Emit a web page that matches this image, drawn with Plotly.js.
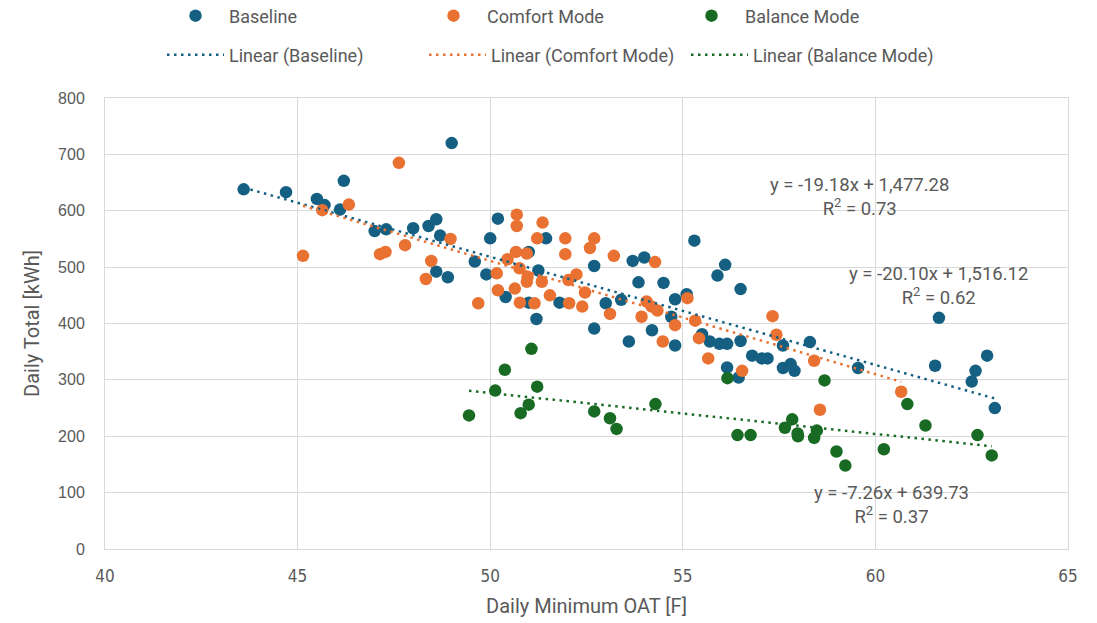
<!DOCTYPE html>
<html>
<head>
<meta charset="utf-8">
<script src="https://cdn.plot.ly/plotly-3.0.1.min.js"></script>
<style>html,body{margin:0;padding:0;background:#fff;}#chart{width:1097px;height:623px;}</style>
</head>
<body>
<div id="chart"></div>
<script>
// ---- Data ----
var seriesNames = ["Baseline", "Comfort Mode", "Balance Mode"];
var trendNames = ["Linear (Baseline)", "Linear (Comfort Mode)", "Linear (Balance Mode)"];

var baselineX = [43.6,44.7,45.5,45.7,46.2,46.1,47.0,47.3,48.0,48.4,48.6,48.7,49.0,48.6,48.9,49.6,49.9,50.0,50.2,50.4,51.0,51.25,51.45,51.0,51.2,51.8,52.7,53.0,53.4,53.7,54.0,53.85,54.5,54.8,55.1,54.7,55.3,55.9,56.1,56.5,52.7,53.6,54.2,54.8,55.5,55.7,55.95,56.15,56.5,56.15,56.45,56.8,57.05,57.2,57.6,58.3,57.6,57.8,57.9,59.55,61.65,61.55,62.9,62.6,62.5,63.1];
var baselineY = [638,633,621,610,653,602,564,567,569,573,585,556,720,492,482,510,487,551,586,447,527,494,551,437,408,437,502,436,442,511,517,473,472,443,452,412,547,485,504,461,391,368,388,361,381,368,364,364,369,322,304,343,338,338,361,367,321,328,316,321,410,325,343,316,297,250];

var comfortX = [45.14,45.64,46.33,47.14,47.28,47.63,47.79,48.33,48.47,48.97,49.69,50.17,50.2,50.45,50.64,50.67,50.69,50.69,50.76,50.77,50.95,50.97,50.95,51.15,51.22,51.34,51.36,51.55,51.95,51.95,52.03,52.05,52.24,52.39,52.46,52.59,52.7,53.11,53.21,53.93,54.06,54.19,54.28,54.34,54.48,54.8,55.12,55.32,55.42,55.66,56.54,57.33,57.43,58.41,58.56,60.67];
var comfortY = [520,601,611,523,527,685,539,479,511,550,436,489,459,514,462,527,593,573,498,437,524,483,474,436,551,474,579,450,551,523,477,436,487,430,455,534,551,417,520,412,439,430,509,423,368,397,445,405,374,338,316,413,380,334,247,279];

var balanceX = [49.45,50.13,50.38,50.79,51.0,51.07,51.22,52.7,53.11,53.28,54.29,56.16,56.42,56.76,57.65,57.84,57.98,57.99,58.41,58.48,58.68,58.99,59.22,60.22,60.83,61.3,62.65,63.02];
var balanceY = [237,281,318,241,256,355,288,244,232,213,257,303,202,202,215,230,205,200,197,210,299,173,148,177,257,219,202,166];

// Trendline equations as printed on the chart
var trendSlope = [-19.18, -20.10, -7.26];
var trendIntercept = [1477.28, 1516.12, 639.73];
var trendR2 = [0.73, 0.62, 0.37];

var xTickVals = [40,45,50,55,60,65];
var yTickVals = [0,100,200,300,400,500,600,700,800];

// ---- Styles ----
var colors = ["#156082", "#E97132", "#196B24"];
var gray = "#595959";
var grid = "#D9D9D9";
var uiFont = "Roboto, 'Liberation Sans', sans-serif";

var xs = [baselineX, comfortX, balanceX];
var ys = [baselineY, comfortY, balanceY];

function fmt(v){
  var s = Math.abs(v).toFixed(2);
  var parts = s.split(".");
  parts[0] = parts[0].replace(/\B(?=(\d{3})+(?!\d))/g, ",");
  return parts.join(".");
}

var traces = [];
for (var i = 0; i < 3; i++) {
  traces.push({
    type: "scatter", mode: "markers", name: seriesNames[i],
    x: xs[i], y: ys[i],
    marker: {color: colors[i], size: 12.5},
    legend: "legend", cliponaxis: false
  });
}
for (var j = 0; j < 3; j++) {
  var xmin = Math.min.apply(null, xs[j]);
  var xmax = Math.max.apply(null, xs[j]);
  traces.push({
    type: "scatter", mode: "lines", name: trendNames[j],
    x: [xmin, xmax],
    y: [trendSlope[j]*xmin + trendIntercept[j], trendSlope[j]*xmax + trendIntercept[j]],
    line: {color: colors[j], width: 2.5, dash: "2.5px,4.5px"},
    legend: "legend2"
  });
}

var labelPos = [[0.784, 0.781], [0.866, 0.583], [0.817, 0.097]];
var annotations = [];
for (var k = 0; k < 3; k++) {
  var eq = "y = " + (trendSlope[k] < 0 ? "-" : "") + fmt(trendSlope[k]) + "x + " + fmt(trendIntercept[k]) +
           "<br>R<sup>2</sup> = " + trendR2[k].toFixed(2);
  annotations.push({
    xref: "paper", yref: "paper", x: labelPos[k][0], y: labelPos[k][1],
    xanchor: "center", yanchor: "middle", align: "center", showarrow: false,
    text: eq, font: {family: uiFont, size: 18.5, color: gray}
  });
}

var legendCommon = {
  orientation: "h", xref: "container", yref: "container",
  xanchor: "left", yanchor: "middle",
  itemwidth: 57, entrywidthmode: "pixels", entrywidth: 190,
  font: {family: uiFont, size: 18, color: gray},
  bgcolor: "rgba(0,0,0,0)", traceorder: "normal"
};
var legend1 = Object.assign({}, legendCommon, {x: 162/1097, y: 1 - 16/623, entrywidth: 186});
var legend2 = Object.assign({}, legendCommon, {x: 162/1097, y: 1 - 55/623});

var layout = {
  width: 1097, height: 623,
  margin: {l: 105, r: 29, t: 98, b: 74},
  paper_bgcolor: "#fff", plot_bgcolor: "#fff",
  showlegend: true,
  legend: legend1, legend2: legend2,
  xaxis: {
    range: [40, 65], tickvals: xTickVals, ticktext: xTickVals.map(String),
    showgrid: true, gridcolor: grid, gridwidth: 1, zeroline: false,
    showline: true, linecolor: grid, linewidth: 1, mirror: true,
    ticks: "", ticklabelstandoff: 12,
    tickfont: {family: "'Liberation Sans Narrow', 'DejaVu Sans Condensed', sans-serif", size: 17, color: gray},
    title: {text: "Daily Minimum OAT [F]", standoff: 13, font: {family: uiFont, size: 20, color: gray}}
  },
  yaxis: {
    range: [0, 800], tickvals: yTickVals, ticktext: yTickVals.map(String),
    showgrid: true, gridcolor: grid, gridwidth: 1, zeroline: false,
    showline: true, linecolor: grid, linewidth: 1, mirror: true,
    ticks: "", ticklabelstandoff: 16,
    tickfont: {family: "'Liberation Sans', Arial, sans-serif", size: 16, color: gray},
    title: {text: "Daily Total [kWh]", standoff: 13, font: {family: uiFont, size: 20, color: gray}}
  },
  annotations: annotations
};

Plotly.newPlot("chart", traces, layout, {displayModeBar: false, staticPlot: true});
</script>
</body>
</html>
